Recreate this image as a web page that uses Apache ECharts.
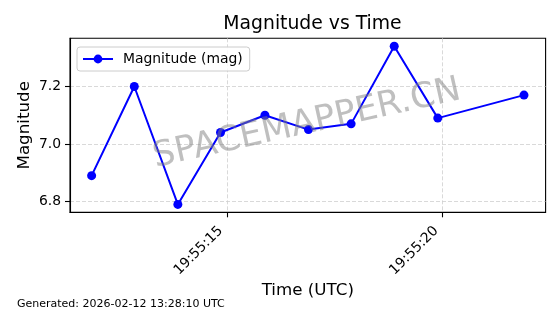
<!DOCTYPE html>
<html>
<head>
<meta charset="utf-8">
<script src="https://cdn.jsdelivr.net/npm/echarts@6/dist/echarts.min.js"></script>
<style>html,body{margin:0;padding:0;background:#fff;}#c{width:560px;height:314px;}</style>
</head>
<body>
<div id="c"></div>
<script>
// Data
var times = ["19:55:11.86","19:55:12.85","19:55:13.86","19:55:14.85","19:55:15.88","19:55:16.89","19:55:17.88","19:55:18.88","19:55:19.89","19:55:21.89"];
var magnitudes = [6.89, 7.20, 6.79, 7.04, 7.10, 7.05, 7.07, 7.34, 7.09, 7.17];
var xTickLabels = ["19:55:15", "19:55:20"];
var yTicks = [6.8, 7.0, 7.2];

function toSec(s) {
  var p = s.split(":");
  return (+p[0]) * 3600 + (+p[1]) * 60 + parseFloat(p[2]);
}
function pad(n) { return (n < 10 ? "0" : "") + n; }
function fmt(v) {
  var t = Math.round(v);
  return pad(Math.floor(t / 3600)) + ":" + pad(Math.floor(t / 60) % 60) + ":" + pad(t % 60);
}

var xs = times.map(toSec);
var xTicks = xTickLabels.map(toSec);
var data = xs.map(function (x, i) { return [x, magnitudes[i]]; });

var xmin = Math.min.apply(null, xs), xmax = Math.max.apply(null, xs);
var ymin = Math.min.apply(null, magnitudes), ymax = Math.max.apply(null, magnitudes);
var xr = xmax - xmin, yr = ymax - ymin;

var FONT = "DejaVu Sans";
var chart = echarts.init(document.getElementById("c"), null, { renderer: "canvas" });
chart.setOption({
  animation: false,
  backgroundColor: "#fff",
  textStyle: { fontFamily: FONT },
  title: {
    text: "Magnitude vs Time",
    left: 307.5, top: 10, textAlign: "center",
    textStyle: { fontFamily: FONT, fontSize: 18.8, fontWeight: "normal", color: "#000" }
  },
  legend: {
    left: 77, top: 47,
    padding: [5, 7, 5, 5],
    itemWidth: 30, itemHeight: 11,
    backgroundColor: "rgba(255,255,255,0.8)",
    borderColor: "#cccccc", borderWidth: 1, borderRadius: 3,
    lineStyle: { width: 2 },
    textStyle: { fontFamily: FONT, fontSize: 13.9, color: "#000", padding: [0, 0, 0, 5] },
    data: ["Magnitude (mag)"]
  },
  grid: {
    left: 70, right: 14.4, top: 38.3, bottom: 101.7,
    show: true, borderColor: "#000", borderWidth: 1.1, backgroundColor: "transparent"
  },
  xAxis: {
    type: "value",
    min: xmin - 0.05 * xr, max: xmax + 0.05 * xr,
    name: "Time (UTC)", nameLocation: "middle", nameGap: 70, nameMoveOverlap: false,
    nameTextStyle: { fontFamily: FONT, fontSize: 16.7, color: "#000" },
    axisLine: { show: true, lineStyle: { color: "#000", width: 1.1 } },
    axisTick: { show: true, length: 5, lineStyle: { color: "#000", width: 1.1 }, customValues: xTicks },
    axisLabel: { rotate: 45, margin: 10, padding: [0, 9, 0, 0], fontFamily: FONT, fontSize: 13.9, color: "#000", customValues: xTicks, formatter: fmt },
    splitLine: { show: true, lineStyle: { type: [4, 2], color: "#cfcfcf", width: 0.8 } }
  },
  yAxis: {
    type: "value",
    min: ymin - 0.05 * yr, max: ymax + 0.05 * yr,
    name: "Magnitude", nameLocation: "middle", nameGap: 37, nameMoveOverlap: false,
    nameTextStyle: { fontFamily: FONT, fontSize: 16.7, color: "#000" },
    axisLine: { show: true, lineStyle: { color: "#000", width: 1.1 } },
    axisTick: { show: true, length: 5, lineStyle: { color: "#000", width: 1.1 }, customValues: yTicks },
    axisLabel: { margin: 9, fontFamily: FONT, fontSize: 13.9, color: "#000", customValues: yTicks, formatter: function (v) { return v.toFixed(1); } },
    splitLine: { show: true, lineStyle: { type: [4, 2], color: "#cfcfcf", width: 0.8 } }
  },
  graphic: [
    {
      type: "text", x: 307, y: 124, rotation: 12.5 * Math.PI / 180, z: 100,
      style: { text: "SPACEMAPPER.CN", fontFamily: FONT, fontSize: 35, fill: "rgba(128,128,128,0.5)", align: "center", verticalAlign: "middle" }
    },
    {
      type: "text", left: 17, top: 299,
      style: { text: "Generated: 2026-02-12 13:28:10 UTC", fontFamily: FONT, fontSize: 11, fill: "#000" }
    }
  ],
  series: [{
    name: "Magnitude (mag)",
    type: "line",
    data: data,
    symbol: "circle", symbolSize: 9,
    lineStyle: { color: "#0000ff", width: 2 },
    itemStyle: { color: "#0000ff" },
    z: 3
  }]
});
</script>
</body>
</html>
